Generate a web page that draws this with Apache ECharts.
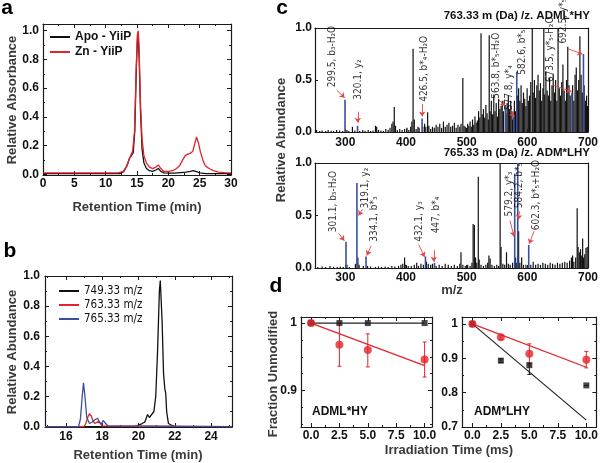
<!DOCTYPE html>
<html><head><meta charset="utf-8">
<script src="https://cdn.jsdelivr.net/npm/echarts@6/dist/echarts.min.js"></script>
<style>html,body{margin:0;padding:0;background:#fff}#c{width:601px;height:463px}</style>
</head><body><div id="c"></div>
<script>
// ---------- Panel a : SEC chromatograms ----------
const aApo = [[0,0.005],[10,0.005],[12.3,0.005],[12.9,0.02],[13.4,0.06],[13.8,0.11],[14.1,0.13],[14.4,0.15],[14.65,0.3],[14.9,0.75],[15.1,0.96],[15.2,0.98],[15.35,0.8],[15.55,0.45],[15.8,0.18],[16.1,0.08],[16.5,0.04],[17,0.025],[17.5,0.02],[18,0.03],[18.4,0.04],[18.8,0.02],[19.3,0.01],[20,0.008],[21,0.008],[22,0.012],[22.8,0.015],[23.5,0.02],[24,0.025],[24.5,0.018],[25,0.01],[26,0.005],[30,0.005]];
const aZn = [[0,0.01],[5,0.01],[10,0.01],[12,0.01],[12.8,0.02],[13.3,0.05],[13.7,0.1],[14.0,0.13],[14.3,0.16],[14.6,0.3],[14.85,0.7],[15.05,0.97],[15.2,1.0],[15.35,0.85],[15.55,0.5],[15.8,0.25],[16.1,0.13],[16.5,0.08],[17.0,0.05],[17.5,0.04],[18.0,0.05],[18.4,0.065],[18.8,0.04],[19.3,0.02],[20,0.02],[20.7,0.025],[21.3,0.04],[21.8,0.06],[22.3,0.1],[22.7,0.13],[23.1,0.14],[23.5,0.145],[23.9,0.16],[24.2,0.21],[24.5,0.26],[24.8,0.22],[25.1,0.16],[25.5,0.1],[25.9,0.06],[26.5,0.04],[27.2,0.025],[28,0.015],[29,0.012],[30,0.01]];
const aXTicks = [0,5,10,15,20,25,30];
const aYTicks = [0,0.2,0.4,0.6,0.8,1.0];

// ---------- Panel b : extracted ion chromatograms ----------
const b749 = [[14.85,0],[19.8,0],[20.0,0.01],[20.2,0.02],[20.35,0.03],[20.5,0.08],[20.6,0.06],[20.7,0.055],[20.85,0.1],[20.95,0.2],[21.05,0.5],[21.15,0.9],[21.2,0.97],[21.3,0.7],[21.38,0.35],[21.45,0.25],[21.5,0.22],[21.55,0.1],[21.65,0.02],[21.8,0.01],[22,0],[25.15,0]];
const b763 = [[14.85,0],[17.0,0],[17.1,0.02],[17.2,0.06],[17.3,0.085],[17.4,0.07],[17.5,0.035],[17.6,0.02],[17.7,0.03],[17.8,0.035],[17.9,0.02],[18.0,0.005],[18.1,0],[25.15,0]];
const b765 = [[14.85,0],[16.7,0],[16.8,0.05],[16.9,0.2],[16.97,0.29],[17.05,0.2],[17.15,0.06],[17.3,0.02],[17.45,0.03],[17.6,0.045],[17.75,0.055],[17.85,0.03],[17.95,0.015],[18.05,0.04],[18.15,0.035],[18.3,0.005],[18.4,0],[25.15,0]];
const bXTicks = [16,18,20,22,24];
const bYTicks = [0,0.2,0.4,0.6,0.8,1.0];

// ---------- Panel c : MS/MS spectra ----------
const c1Black = [[253,.02],[258,.01],[262,.015],[268,.01],[272,.02],[277,.012],[281,.01],[286,.02],[291,.015],[296,.01],
[303,.02],[306,.01],[312,.05],[316,.015],[324,.01],[329,.02],[333,.012],[338,.02],[342,.01],[346,.015],
[350,.06],[352,.05],[355,.02],[359,.015],[363,.01],[367,.03],[371,.02],[374,.04],[377,.08],[379,.1],[381,.24],[383,.06],[386,.02],[390,.03],[394,.02],[398,.03],
[402,.04],[405,.02],[408,.05],[410,.1],[412,.8],[414,.12],[417,.03],[420,.05],[422,.04],[428,.05],[431,.08],[433,.05],[436,.19],[438,.06],[441,.03],[444,.05],[447,.04],[450,.07],
[453,.05],[456,.08],[459,.04],[462,.1],[465,.05],[468,.07],[471,.09],[474,.05],[477,.06],[480,.09],[483,.04],[486,.07],[489,.05],[491,.08],[494,.52],[496,.06],[498,.05],
[500,.04],[502,.08],[504,.06],[506,.1],[508,.05],[510,.12],[512,.07],[514,.15],[516,.09],[518,.11],[520,.2],[522,.14],[524,.95],[526,.17],[528,.22],[530,.14],[532,.26],[534,.18],[536,.12],[537.5,.93],[539,.2],[541,.3],[543,.17],[545,.36],[547,.2],[549,.28],[551,.15],[553,.32],[555,.22],[557,.25],[559,.3],[561,.2],[565,.18],[567,.28],[569,.35],[571,.22],[573,.3],[575,.2],[576,.12],
[579,.3],[581,.2],[584,.35],[586,.42],[588,.3],[590,.45],[592,.28],[594,.38],[596,.32],[598,.25],[600,.42],[602,.3],[604,.35],[606,.48],[608.5,1],[610,.38],[612,.5],[614,.33],[616,.45],[618,.55],[620,.4],[622,.47],[624,.3],[626,.42],[627.5,1],[629,.36],[631,.58],[633,.4],[635,.35],[637,.52],[639,.3],[641,.45],[643,.56],[645,.38],[647,.5],[649,.3],[651,1],[653,.42],[655,.35],[657,.48],[659,.65],[661,.4],[663,.3],[665,.5],[667,.82],[669,.45],[671,.35],[675,.45],[677,.3],[679,.55],[681,.62],[683,.4],[685,.5],[687,.92],[689,.55],[691,.38],[694,.45],[696,.3],[698,.35],[699.5,.25]];
const c1Blue = [[299.5,.31],[320.1,.06],[426.5,.13],[563.8,.26],[577.8,.15],[582.6,.58],[673.5,.38],[692.5,.75]];
const c1Labels = [[278,0.43,'299.5, b₃-H₂O'],[321.7,0.31,'320.1, y₂'],[430.6,0.29,'426.5, b*₄-H₂O'],[549.2,0.32,'563.8, b*₅-H₂O'],[570.4,0.21,'577.8, y*₄'],[592.7,0.55,'582.6, b*₅'],[637.3,0.48,'673.5, y*₅-H₂O'],[659.2,0.85,'692.5, y*₅']];
const c1Arrows = [[[286,0.40],[298.9,0.33]],[[320.6,0.195],[320.6,0.09]],[[426.7,0.27],[426.7,0.15]],[[553,0.31],[563.5,0.25]],[[570.9,0.2],[579,0.15]],[[642.8,0.45],[672.7,0.39]],[[667,0.80],[690.7,0.75]]];

const c2Black = [[255,.01],[262,.015],[268,.01],[275,.02],[281,.012],[287,.01],[292,.015],[297,.01],
[303,.03],[307,.01],[317,.04],[321,.1],[323,.03],[330,.02],[337,.02],[342,.015],[350,.01],[355,.015],[360,.01],[366,.015],[371,.01],[377,.02],[382,.015],[388,.02],[392,.03],[395,.04],[398,.1],[400,.03],[404,.02],
[409,.02],[414,.03],[418,.05],[421,.02],[425,.04],[429,.03],[434,.06],[437,.04],[441,.03],[444,.04],[450,.02],[455,.03],[460,.02],[465,.04],[470,.03],[475,.02],[480,.03],[485,.02],[489,.04],[491,.15],[494,.03],[498,.02],
[502,.03],[506,.02],[509,.05],[511,.42],[513,.41],[515,.1],[517,.05],[519.5,.87],[521,.08],[524,.03],[528,.02],[532,.03],[535,.05],[537,.12],[539,.09],[542,.03],[546,.02],[550,.03],[553,.02],[555.5,1],[557,.2],[560,.04],[563,.03],
[566,.15],[569,.04],[572,.03],[576,.05],[581,.1],[583,.05],[586,.35],[588,.05],[591,.1],[594,.03],[598,.03],[606,.03],[610,.06],[614,.03],[618,.04],[622,.03],[626,.05],[630,.04],[634,.03],[638,.05],[642,.04],[646,.03],[650,.05],[654,.04],[658,.05],[662,.06],[666,.05],[670,.07],[673,.1],[675,.12],[677,.06],[680,.1],[682.5,.57],[684,.2],[686,.15],[688,.18],[690,.12],[691.5,.28],[693,.1],[695,.13],[697,.19],[699,.2]];
const c2Blue = [[301.1,.25],[319.1,.81],[334.1,.11],[432.1,.11],[447,.05],[579.2,.9],[584.2,1.0],[602.3,.22]];
const c2Labels = [[280.9,0.34,'301.1, b₃-H₂O'],[332.6,0.57,'319.1, y₂'],[347.8,0.25,'334.1, b*₃'],[421.3,0.25,'432.1, y₃'],[449.6,0.33,'447, b*₄'],[571,0.49,'579.2, y*₃'],[587.3,0.57,'584.2, b*₅'],[615.6,0.36,'602.3, b*₅+H₂O']];
const c2Arrows = [[[289,0.33],[298.4,0.26]],[[328.2,0.56],[321.7,0.5]],[[342.4,0.21],[335.3,0.12]],[[420.8,0.225],[430.6,0.105]],[[445.8,0.17],[445.8,0.06]],[[571.5,0.45],[578,0.3]],[[587.3,0.54],[585,0.46]],[[611,0.35],[603,0.23]]];
const cXTicks = [300,400,500,600,700];
const cYTicks = [0,0.5,1.0];

// ---------- Panel d : fraction unmodified ----------
const dTime = [0, 2.5, 5, 10];
const d1Black = [1, 1, 1, 1];
const d1Red = [1, 0.968, 0.960, 0.946];
const d1RedLo = [1, 0.936, 0.935, 0.920];
const d1RedHi = [1, 1.0, 0.984, 0.972];
const d1BlackFit = [[0,1],[10,1]];
const d1RedFit = [[0,1],[10,0.937]];
const d2Black = [1, 0.893, 0.880, 0.821];
const d2BlackLo = [1, 0.888, 0.853, 0.821];
const d2BlackHi = [1, 0.898, 0.885, 0.821];
const d2Red = [1, 0.961, 0.913, 0.896];
const d2RedLo = [1, 0.954, 0.880, 0.872];
const d2RedHi = [1, 0.968, 0.942, 0.920];
const d2BlackFit = [[0,1],[10,0.72]];
const d2RedFit = [[0,1],[10,0.874]];
const dXTicks = [0, 2.5, 5, 7.5, 10];
const d1YTicks = [0.9, 1.0];
const d2YTicks = [0.7, 0.8, 0.9, 1.0];

// ---------- styling ----------
const FONT = "'Liberation Sans', Arial, Helvetica, sans-serif";
const NARROW = "'Liberation Sans Narrow', 'DejaVu Sans Condensed', 'Liberation Sans', sans-serif";
const AXC = '#1a1a1a';
const RED = '#e3232b';
const BLUE = '#3c4f9f';
const ARROW = '#e04848';

const grids = [], xAxes = [], yAxes = [];
function axis(gi, pos, r, ticks, tickLen, labelFmt, margin, lineShow) {
  return {
    type: 'value', gridIndex: gi, position: pos, min: r[0], max: r[1],
    axisLine: { show: lineShow, onZero: false, lineStyle: { color: AXC, width: 1.2 } },
    axisTick: { show: !!ticks, inside: true, length: tickLen, customValues: ticks || [], lineStyle: { color: AXC, width: 1 } },
    axisLabel: { show: !!labelFmt, customValues: ticks || [], formatter: labelFmt || (v => ''), margin: margin, fontFamily: FONT, fontWeight: 'bold', fontSize: 12, color: '#111', showMinLabel: true, showMaxLabel: true, hideOverlap: false },
    splitLine: { show: false }, minorTick: { show: false }, axisPointer: { show: false }
  };
}
function panel(box, xr, yr, o) {
  const gi = grids.length;
  grids.push({ left: box[0], top: box[1], width: box[2], height: box[3], containLabel: false, show: false });
  const xi = xAxes.length, yi = yAxes.length;
  xAxes.push(axis(gi, 'bottom', xr, o.xT, o.len, o.xF, o.xM, true));
  yAxes.push(axis(gi, 'left', yr, o.yT, o.len, o.yF, o.yM, true));
  xAxes.push(axis(gi, 'top', xr, o.mirror ? o.xT : null, o.len, null, 0, true));
  yAxes.push(axis(gi, 'right', yr, o.mirror ? o.yT : null, o.len, null, 0, true));
  if (o.xMinor) { xAxes.push(axis(gi, 'bottom', xr, o.xMinor, 2, null, 0, false)); xAxes.push(axis(gi, 'top', xr, o.xMinor, 2, null, 0, false)); }
  if (o.yMinor) { yAxes.push(axis(gi, 'left', yr, o.yMinor, 2, null, 0, false)); yAxes.push(axis(gi, 'right', yr, o.yMinor, 2, null, 0, false)); }
  return { x: xi, y: yi };
}
const f1 = v => Number(v).toFixed(1);
const f0 = v => String(Math.round(v));
const fD = v => (Number(v) === 1 ? '1' : Number(v).toFixed(1));

const pA = panel([43, 24, 188, 151], [0, 30], [-0.005, 1.047], { xT: aXTicks, yT: aYTicks, xF: f0, yF: f1, xM: 3, yM: 4, len: 4, mirror: true, xMinor: [2.5,7.5,12.5,17.5,22.5,27.5], yMinor: [0.1,0.3,0.5,0.7,0.9] });
const pB = panel([45, 276, 187, 151], [14.85, 25.15], [-0.003, 1.0], { xT: bXTicks, yT: bYTicks, xF: f0, yF: f1, xM: 4, yM: 5, len: 4, mirror: true, xMinor: [15,17,19,21,23,25], yMinor: [0.1,0.3,0.5,0.7,0.9] });
const pC1 = panel([315, 28, 277, 104], [250, 700], [0, 1], { xT: cXTicks, yT: cYTicks, xF: f0, yF: f1, xM: 5, yM: 3, len: 3, mirror: false });
const pC2 = panel([315, 163, 277, 105], [250, 700], [0, 1], { xT: cXTicks, yT: cYTicks, xF: f0, yF: f1, xM: 4, yM: 3, len: 3, mirror: false });
const pD1 = panel([301, 317, 131, 110], [-0.88, 10.65], [0.846, 1.009], { xT: dXTicks, yT: d1YTicks, xF: f1, yF: fD, xM: 3, yM: 4, len: 4, mirror: true, xMinor: [1.25,3.75,6.25,8.75], yMinor: [0.85,0.875,0.925,0.95,0.975] });
const pD2 = panel([462, 317, 135, 110], [-0.91, 10.88], [0.7, 1.02], { xT: dXTicks, yT: d2YTicks, xF: f1, yF: fD, xM: 3, yM: 4, len: 4, mirror: true, xMinor: [1.25,3.75,6.25,8.75], yMinor: [0.75,0.85,0.95] });

function lineS(p, name, data, color, w) {
  return { type: 'line', name, xAxisIndex: p.x, yAxisIndex: p.y, data, symbol: 'none', smooth: false,
    lineStyle: { color, width: w || 1.3 }, itemStyle: { color }, z: 3 };
}
function barS(p, name, data, color, w) {
  return { type: 'bar', name, xAxisIndex: p.x, yAxisIndex: p.y, data, barWidth: w, barGap: '-100%',
    itemStyle: { color }, z: 3 };
}
function annS(p, labels, arrows) {
  return { type: 'scatter', xAxisIndex: p.x, yAxisIndex: p.y, symbolSize: 2, itemStyle: { color: 'rgba(0,0,0,0)' },
    data: labels.map(l => ({ value: [l[0], l[1]], name: l[2] })), z: 5,
    label: { show: true, formatter: q => q.name, position: 'inside', rotate: 90, align: 'left', verticalAlign: 'middle',
      fontFamily: NARROW, fontSize: 10, color: '#000' },
    labelLayout: { hideOverlap: false },
    markLine: { silent: true, symbol: ['none', 'arrow'], symbolSize: 5, animation: false,
      lineStyle: { color: ARROW, width: 0.9, type: 'solid' }, label: { show: false },
      data: arrows.map(a => [{ coord: a[0] }, { coord: a[1] }]) } };
}
function errS(p, xs, lo, hi, color) {
  return { type: 'custom', xAxisIndex: p.x, yAxisIndex: p.y, z: 4,
    data: xs.map((x, i) => [x, lo[i], hi[i]]),
    renderItem: (params, api) => {
      const a = api.coord([api.value(0), api.value(1)]), b = api.coord([api.value(0), api.value(2)]);
      const st = { stroke: color, lineWidth: 1 };
      return { type: 'group', children: [
        { type: 'line', shape: { x1: a[0], y1: a[1], x2: b[0], y2: b[1] }, style: st },
        { type: 'line', shape: { x1: a[0] - 2, y1: a[1], x2: a[0] + 2, y2: a[1] }, style: st },
        { type: 'line', shape: { x1: b[0] - 2, y1: b[1], x2: b[0] + 2, y2: b[1] }, style: st } ] };
    } };
}
function ptS(p, xs, ys, color, symbol, size) {
  return { type: 'scatter', xAxisIndex: p.x, yAxisIndex: p.y, data: xs.map((x, i) => [x, ys[i]]),
    symbol, symbolSize: size, itemStyle: { color }, z: 6 };
}

const series = [
  lineS(pA, 'Apo - YiiP', aApo, '#111'),
  lineS(pA, 'Zn - YiiP', aZn, RED),
  lineS(pB, '749.33 m/z', b749, '#111'),
  lineS(pB, '763.33 m/z', b763, RED),
  lineS(pB, '765.33 m/z', b765, BLUE),
  barS(pC1, 'c1k', c1Black, '#111', 1.2),
  barS(pC1, 'c1b', c1Blue, BLUE, 1.6),
  annS(pC1, c1Labels, c1Arrows),
  barS(pC2, 'c2k', c2Black, '#111', 1.2),
  barS(pC2, 'c2b', c2Blue, BLUE, 1.6),
  annS(pC2, c2Labels, c2Arrows),
  lineS(pD1, 'd1kf', d1BlackFit, '#222', 1.2),
  lineS(pD1, 'd1rf', d1RedFit, RED, 1.2),
  errS(pD1, dTime, d1RedLo, d1RedHi, RED),
  ptS(pD1, dTime, d1Black, '#1a1a1a', 'rect', 6),
  ptS(pD1, dTime, d1Red, RED, 'circle', 8),
  lineS(pD2, 'd2kf', d2BlackFit, '#222', 1.2),
  lineS(pD2, 'd2rf', d2RedFit, RED, 1.2),
  errS(pD2, dTime, d2BlackLo, d2BlackHi, '#1a1a1a'),
  errS(pD2, dTime, d2RedLo, d2RedHi, RED),
  ptS(pD2, dTime, d2Black, '#1a1a1a', 'rect', 6),
  ptS(pD2, dTime, d2Red, RED, 'circle', 8)
];

function txt(x, y, text, font, opts) {
  return Object.assign({ type: 'text', x, y, silent: true, z: 100,
    style: { text, font, fill: (opts && opts.fill) || '#111', textAlign: (opts && opts.align) || 'center', textVerticalAlign: 'middle' } },
    opts && opts.rot ? { rotation: Math.PI / 2 } : {});
}
const TITLE = 'bold 13px ' + FONT, LET = 'bold 21px ' + FONT;
const graphic = [
  txt(7, 8, 'a', LET, { fill: '#000' }),
  txt(10, 251, 'b', LET, { fill: '#000' }),
  txt(282, 8, 'c', LET, { fill: '#000' }),
  txt(276, 286, 'd', LET, { fill: '#000' }),
  txt(137, 207, 'Retention Time (min)', TITLE, { fill: '#3a3a3a' }),
  txt(12, 100, 'Relative Absorbance', TITLE, { fill: '#3a3a3a', rot: true }),
  txt(138, 455, 'Retention Time (min)', TITLE, { fill: '#3a3a3a' }),
  txt(12, 352, 'Relative Abundance', TITLE, { fill: '#3a3a3a', rot: true }),
  txt(281, 140, 'Relative Abundance', TITLE, { fill: '#3a3a3a', rot: true }),
  txt(452, 290, 'm/z', TITLE, { fill: '#3a3a3a' }),
  txt(449, 450, 'Irradiation Time (ms)', TITLE, { fill: '#3a3a3a' }),
  txt(273, 374, 'Fraction Unmodified', TITLE, { fill: '#3a3a3a', rot: true }),
  txt(590, 16, '763.33 m (Da) /z. ADML*HY', 'bold 11.5px ' + FONT, { align: 'right' }),
  txt(590, 153, '765.33 m (Da) /z. ADM*LHY', 'bold 11.5px ' + FONT, { align: 'right' }),
  txt(312, 412, 'ADML*HY', 'bold 12px ' + FONT, { align: 'left' }),
  txt(474, 412, 'ADM*LHY', 'bold 12px ' + FONT, { align: 'left' })
];

const chart = echarts.init(document.getElementById('c'), null, { renderer: 'canvas' });
chart.setOption({
  animation: false,
  backgroundColor: '#fff',
  grid: grids, xAxis: xAxes, yAxis: yAxes, series, graphic,
  legend: [
    { data: ['Apo - YiiP', 'Zn - YiiP'], left: 45, top: 26, orient: 'vertical', itemWidth: 20, itemHeight: 2, itemGap: 3, icon: 'rect',
      textStyle: { fontFamily: FONT, fontWeight: 'bold', fontSize: 12, color: '#111' }, selectedMode: false },
    { data: ['749.33 m/z', '763.33 m/z', '765.33 m/z'], left: 54, top: 280, orient: 'vertical', itemWidth: 20, itemHeight: 2, itemGap: 2, icon: 'rect',
      textStyle: { fontFamily: NARROW, fontSize: 11.5, color: '#111' }, selectedMode: false }
  ]
});
</script></body></html>
